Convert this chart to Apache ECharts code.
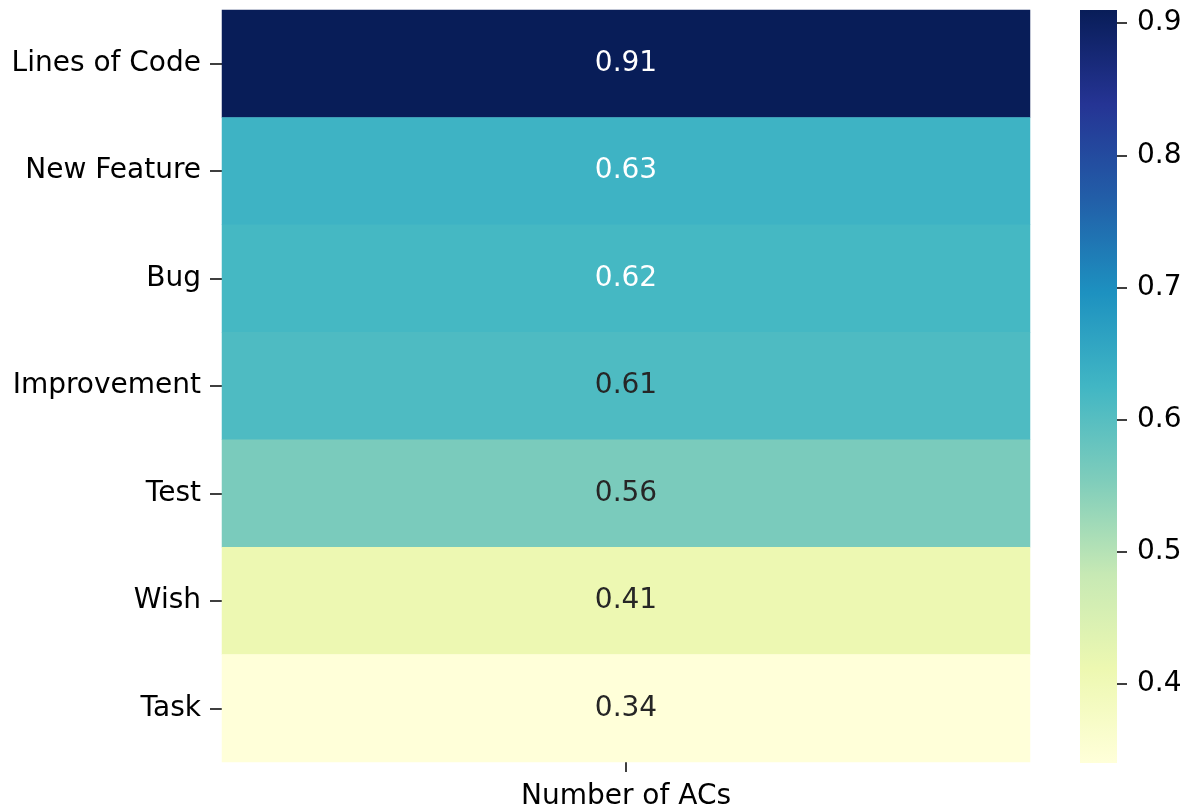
<!DOCTYPE html>
<html>
<head>
<meta charset="utf-8">
<script src="https://cdn.jsdelivr.net/npm/echarts@6/dist/echarts.min.js"></script>
<style>
html,body{margin:0;padding:0;background:#fff;}
#c{width:1192px;height:811px;}
</style>
</head>
<body>
<div id="c"></div>
<script>
const rowLabels = ["Lines of Code", "New Feature", "Bug", "Improvement", "Test", "Wish", "Task"];
const colLabels = ["Number of ACs"];
const values = [0.91, 0.63, 0.62, 0.61, 0.56, 0.41, 0.34];
const colorbarTicks = [0.4, 0.5, 0.6, 0.7, 0.8, 0.9];
const vmin = 0.34, vmax = 0.91;
const palette = ["#ffffd9", "#edf8b1", "#c7e9b4", "#7fcdbb", "#41b6c4", "#1d91c0", "#225ea8", "#253494", "#081d58"];

const FONT = "DejaVu Sans";
const chart = echarts.init(document.getElementById('c'), null, {renderer: 'canvas'});

const data = values.map((v, i) => ({
  value: [0, i, v],
  label: {color: v > 0.615 ? '#ffffff' : '#262626'}
}));

const stops = palette.map((c, i) => ({offset: i / (palette.length - 1), color: c}));

chart.setOption({
  backgroundColor: '#ffffff',
  animation: false,
  grid: [
    {left: 222, top: 10, width: 808, height: 753},
    {left: 1080, top: 10, width: 37, height: 753, show: true, borderWidth: 0,
     backgroundColor: new echarts.graphic.LinearGradient(0, 1, 0, 0, stops)}
  ],
  xAxis: [
    {type: 'category', gridIndex: 0, data: colLabels,
     axisLine: {show: false},
     axisTick: {show: true, alignWithLabel: true, length: 10, lineStyle: {color: '#000', width: 1.5}},
     axisLabel: {color: '#000', fontFamily: FONT, fontSize: 28, margin: 21},
     splitLine: {show: false}},
    {type: 'value', gridIndex: 1, show: false, min: 0, max: 1}
  ],
  yAxis: [
    {type: 'category', gridIndex: 0, data: rowLabels, inverse: true,
     axisLine: {show: false},
     axisTick: {show: true, alignWithLabel: true, length: 12, inside: false, lineStyle: {color: '#000', width: 1.5}},
     axisLabel: {color: '#000', fontFamily: FONT, fontSize: 28, margin: 21, padding: [3, 0, 0, 0]},
     splitLine: {show: false}},
    {type: 'value', gridIndex: 1, position: 'right', min: vmin, max: vmax,
     axisLine: {show: false, onZero: false},
     axisTick: {show: true, inside: false, length: 10, customValues: colorbarTicks, lineStyle: {color: '#000', width: 1.5}},
     axisLabel: {color: '#000', fontFamily: FONT, fontSize: 28, margin: 20, customValues: colorbarTicks,
       padding: [2, 0, 0, 0], formatter: v => v.toFixed(1)},
     splitLine: {show: false}}
  ],
  visualMap: {
    show: false, type: 'continuous', min: vmin, max: vmax, dimension: 2, seriesIndex: 0,
    inRange: {color: palette}
  },
  series: [{
    type: 'heatmap', xAxisIndex: 0, yAxisIndex: 0,
    data: data,
    label: {show: true, fontFamily: FONT, fontSize: 28, padding: [3, 0, 0, 0], formatter: p => p.value[2].toFixed(2)},
    itemStyle: {borderWidth: 0},
    emphasis: {disabled: true}
  }]
});
</script>
</body>
</html>
